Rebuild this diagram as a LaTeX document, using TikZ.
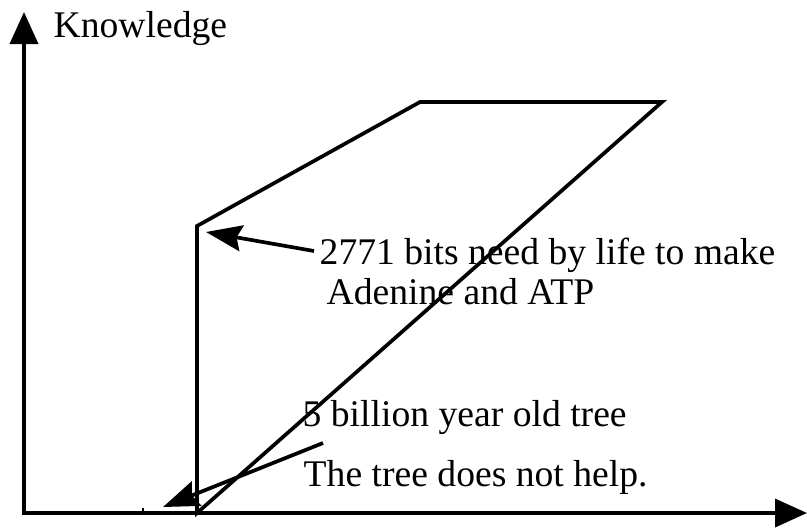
\documentclass[tikz,border=0pt]{standalone}
\usepackage{fontspec}
\setmainfont{Liberation Serif}
\usetikzlibrary{arrows.meta,positioning}
\tikzset{
  edge/.style   ={line width=1.05pt},
  axis/.style   ={edge,-{Triangle[length=3.2mm,width=2.8mm]}},
  pointer/.style={edge,-{Stealth[length=3.6mm,width=2.6mm,inset=0.5mm]}},
  lbl/.style    ={font=\fontsize{10.7}{13}\selectfont,inner sep=0pt,anchor=base west},
}

\begin{document}
\begin{tikzpicture}[x=0.01cm,y=-0.01cm]
  \useasboundingbox (0,0) rectangle (807,527);
  % axes
  \coordinate (ybot) at (24,515);
  \coordinate (ytop) at (24,12);
  \coordinate (xbeg) at (22,513);
  \coordinate (xend) at (807,513);
  \draw[axis] (ybot) -- (ytop);
  \draw[axis] (xbeg) -- (xend);
  % knowledge curve
  \coordinate (b0) at (197,513);
  \coordinate (b1) at (197,226);
  \coordinate (t1) at (420,102);
  \coordinate (t2) at (662,102);
  \draw[edge,line join=miter] (b0) -- (b1) -- (t1) -- (t2) -- cycle;
  % small tick
  \coordinate (k0) at (143,508);
  \coordinate (k1) at (143,513);
  \draw[line width=0.8pt] (k0) -- (k1);
  % labels
  \node[lbl] (know) at (53,37)  {Knowledge};
  \node[lbl] (bits) at (319,264) {2771 bits need by life to make};
  \node[lbl] (atp)  at (326,304) {Adenine and ATP};
  \node[lbl] (tree) at (302,426) {5 billion year old tree};
  \node[lbl] (help) at (303,486) {The tree does not help.};
  % pointers
  \coordinate (p1) at (314,251);
  \coordinate (q1) at (206,232);
  \coordinate (p2) at (323,443);
  \coordinate (q2) at (163,507);
  \draw[pointer] (p1) -- (q1);
  \draw[pointer] (p2) -- (q2);
\end{tikzpicture}
\end{document}
